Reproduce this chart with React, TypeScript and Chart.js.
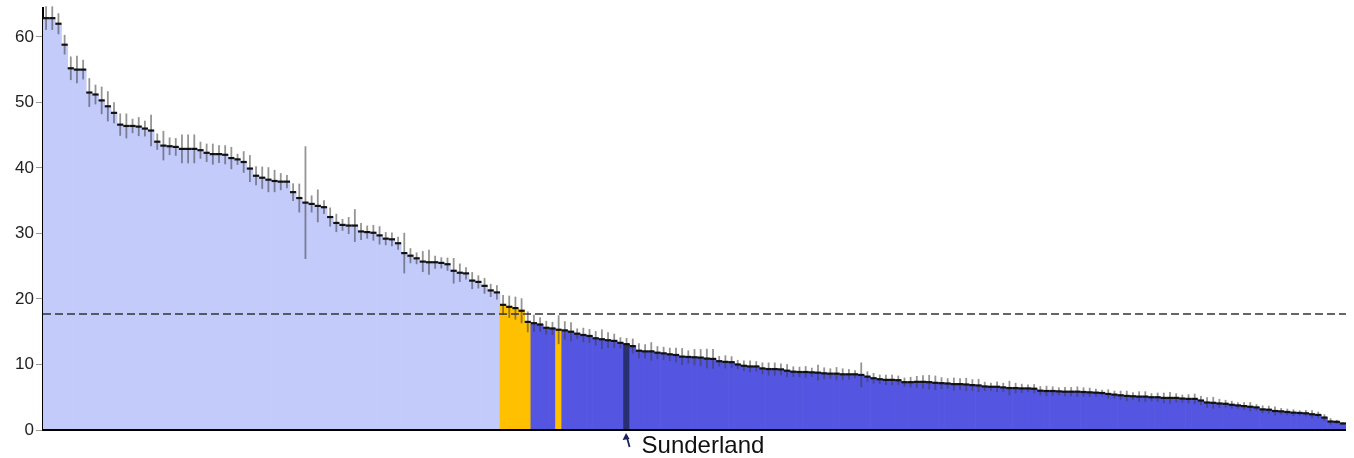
import React, { useEffect, useRef } from "react";
import { Chart, registerables } from "chart.js";

Chart.register(...registerables);

// Bar values (sorted, highest first)
const values: number[] = [
  62.85, 62.85, 62.0, 58.8, 55.2, 55.0, 55.0, 51.5, 51.2, 50.3,
  49.4, 48.4, 46.6, 46.4, 46.4, 46.3, 46.0, 45.7, 44.0, 43.4,
  43.3, 43.2, 42.9, 42.9, 42.9, 42.7, 42.3, 42.1, 42.1, 42.0,
  41.5, 41.3, 40.9, 39.9, 38.8, 38.5, 38.2, 38.0, 37.9, 37.9,
  36.3, 35.4, 34.7, 34.5, 34.2, 34.0, 32.5, 31.6, 31.3, 31.2,
  31.2, 30.3, 30.2, 30.1, 29.7, 29.2, 29.1, 28.5, 27.0, 26.6,
  26.2, 25.7, 25.6, 25.6, 25.5, 25.3, 24.3, 24.0, 23.9, 22.8,
  22.6, 22.0, 21.3, 21.0,
  19.1, 18.8, 18.6, 18.2, 16.5, 16.3, 16.1, 15.6, 15.5, 15.3,
  15.2, 15.0, 14.7, 14.5, 14.35, 14.0, 13.85, 13.7, 13.6, 13.3,
  13.1, 12.8, 12.1, 12.0, 12.0, 11.8, 11.7, 11.55, 11.45, 11.2,
  11.15,
  11.1, 11.05, 10.9, 10.85, 10.5, 10.4, 10.35, 10.0, 9.8, 9.7,
  9.7, 9.4, 9.3, 9.3, 9.25, 9.05, 8.9, 8.85, 8.85, 8.8,
  8.75, 8.65, 8.6, 8.6, 8.5, 8.5, 8.5, 8.4, 8.15, 7.9,
  7.75, 7.65, 7.65, 7.6, 7.3, 7.3, 7.35,
  7.35, 7.3, 7.2, 7.15, 7.1, 7.0, 7.0, 6.95, 6.85, 6.8,
  6.65, 6.6, 6.6, 6.5, 6.4, 6.4, 6.35, 6.35, 6.3, 6.0,
  5.95, 5.95, 5.9, 5.85, 5.85, 5.85, 5.8, 5.75, 5.7, 5.65,
  5.5, 5.4, 5.3, 5.2, 5.15, 5.1,
  5.1, 5.0, 5.0, 4.9, 4.9, 4.9, 4.8, 4.75, 4.75, 4.5,
  4.2, 4.15, 4.05, 4.0, 3.85, 3.75, 3.65, 3.55, 3.45, 3.15,
  3.1, 2.9, 2.85, 2.75, 2.65, 2.6, 2.55, 2.4, 2.3, 1.9,
  1.3, 1.25, 1.0,
];

// Half-width of each confidence interval
const errors: number[] = [
  1.8, 1.8, 1.6, 1.5, 1.8, 2.1, 1.5, 2.2, 1.5, 2.1,
  2.3, 1.6, 1.7, 1.9, 1.1, 1.45, 1.2, 2.4, 1.25, 2.25,
  1.35, 1.35, 2.2, 2.2, 2.2, 1.3, 1.4, 1.6, 1.35, 1.45,
  1.7, 0.85, 1.65, 2.05, 1.45, 1.7, 1.9, 1.7, 1.3, 1.0,
  1.35, 2.2, 8.6, 1.3, 2.5, 1.05, 1.45, 1.4, 0.9, 1.3,
  2.5, 1.3, 1.0, 1.2, 1.4, 1.0, 1.05, 1.0, 3.1, 1.15,
  0.9, 1.6, 1.9, 1.0, 0.85, 1.0, 1.95, 1.4, 0.95, 1.3,
  1.0, 1.2, 1.0, 1.1,
  1.5, 1.7, 1.75, 1.9, 1.6, 1.3, 1.1, 1.05, 1.0, 2.2,
  1.4, 1.45, 0.8, 1.1, 1.05, 1.1, 1.5, 1.2, 1.1, 0.85,
  0.95, 1.15, 1.15, 1.1, 1.4, 1.0, 1.0, 1.0, 1.1, 1.3,
  1.0,
  1.25, 1.3, 1.5, 1.5, 0.8, 1.0, 0.9, 0.7, 0.8, 0.9,
  0.8, 0.9, 1.0, 1.0, 0.9, 1.0, 0.8, 0.8, 0.9, 0.7,
  1.2, 0.9, 0.8, 1.0, 0.9, 0.8, 0.6, 1.9, 0.8, 0.8,
  0.7, 0.8, 0.8, 0.7, 0.7, 0.8, 0.9,
  1.0, 1.1, 1.1, 0.9, 0.8, 1.0, 0.9, 1.0, 0.9, 1.0,
  0.7, 0.6, 0.8, 0.7, 1.1, 0.8, 0.7, 0.6, 0.7, 0.7,
  0.8, 0.7, 0.6, 0.7, 0.7, 0.8, 0.7, 0.7, 0.6, 0.5,
  0.7, 0.6, 0.7, 0.8, 0.6, 0.8,
  0.8, 0.6, 0.7, 0.8, 0.9, 0.7, 0.6, 0.7, 0.8, 0.7,
  0.8, 0.9, 0.7, 0.6, 0.6, 0.5, 0.6, 0.7, 0.5, 0.6,
  0.6, 0.7, 0.5, 0.5, 0.5, 0.4, 0.5, 0.6, 0.5, 0.5,
  0.5, 0.3, 0.2,
];

const lightGroupCount = 74; // first group (above the average band)
const orangeIndices = [74, 75, 76, 77, 78, 83];
const highlightIndex = 94;
const highlightName = "Sunderland";
const averageValue = 17.7;
const yTickValues = [0, 10, 20, 30, 40, 50, 60];
const yMax = 64.4;

const categories: string[] = values.map((_, i) =>
  i === highlightIndex ? highlightName : `Area ${i + 1}`
);

const COLORS = {
  light: "#c3cbfb",
  blue: "#5456e2",
  orange: "#ffc000",
  highlight: "#283072",
};

const barColors = values.map((_, i) => {
  if (i === highlightIndex) return COLORS.highlight;
  if (orangeIndices.includes(i)) return COLORS.orange;
  if (i < lightGroupCount) return COLORS.light;
  return COLORS.blue;
});

const FONT = '"Liberation Sans", Arial, Helvetica, sans-serif';

const overlayPlugin = {
  id: "overlay",
  afterDatasetsDraw(chart: any) {
    const ctx: CanvasRenderingContext2D = chart.ctx;
    const meta = chart.getDatasetMeta(0);
    const ys = chart.scales.y;
    const area = chart.chartArea;
    ctx.save();

    // error bars
    ctx.strokeStyle = "rgba(60,60,60,0.55)";
    ctx.lineWidth = 1.8;
    meta.data.forEach((bar: any, i: number) => {
      const e = errors[i];
      if (!e) return;
      ctx.beginPath();
      ctx.moveTo(bar.x, ys.getPixelForValue(values[i] + e));
      ctx.lineTo(bar.x, ys.getPixelForValue(values[i] - e));
      ctx.stroke();
    });

    // black value marks on bar tops
    ctx.strokeStyle = "#111";
    ctx.lineWidth = 2.2;
    meta.data.forEach((bar: any, i: number) => {
      const w = bar.width;
      const yy = ys.getPixelForValue(values[i]);
      ctx.beginPath();
      ctx.moveTo(bar.x - w / 2, yy);
      ctx.lineTo(bar.x + w / 2, yy);
      ctx.stroke();
    });

    // average dashed line
    const ay = ys.getPixelForValue(averageValue);
    ctx.strokeStyle = "#333";
    ctx.lineWidth = 1.4;
    ctx.setLineDash([8, 4]);
    ctx.beginPath();
    ctx.moveTo(area.left, ay);
    ctx.lineTo(area.right, ay);
    ctx.stroke();
    ctx.setLineDash([]);

    // x axis line
    ctx.strokeStyle = "#000";
    ctx.lineWidth = 2;
    ctx.beginPath();
    ctx.moveTo(area.left - 1, area.bottom);
    ctx.lineTo(area.right, area.bottom);
    ctx.stroke();

    // highlight arrow + label
    const hb = meta.data[highlightIndex];
    const hx = hb.x;
    const tipY = area.bottom + 3;
    ctx.strokeStyle = "#1c2460";
    ctx.fillStyle = "#1c2460";
    ctx.lineWidth = 1.8;
    ctx.beginPath();
    ctx.moveTo(hx + 3, area.bottom + 17);
    ctx.lineTo(hx, tipY + 3);
    ctx.stroke();
    ctx.beginPath();
    ctx.moveTo(hx - 0.5, tipY);
    ctx.lineTo(hx - 4, tipY + 7);
    ctx.lineTo(hx + 3, tipY + 6);
    ctx.closePath();
    ctx.fill();

    ctx.fillStyle = "#111";
    ctx.font = `24px ${FONT}`;
    ctx.textAlign = "left";
    ctx.textBaseline = "alphabetic";
    ctx.fillText(highlightName, hx + 15, area.bottom + 23);

    ctx.restore();
  },
};

export default function App() {
  const canvasRef = useRef<HTMLCanvasElement | null>(null);

  useEffect(() => {
    document.body.style.margin = "0";
    const canvas = canvasRef.current;
    if (!canvas) return;
    const chart = new Chart(canvas, {
      type: "bar",
      data: {
        labels: categories,
        datasets: [
          {
            data: values,
            backgroundColor: barColors,
            borderWidth: 0,
            barPercentage: 1,
            categoryPercentage: 1,
          },
        ],
      },
      options: {
        responsive: false,
        animation: false,
        devicePixelRatio: 1,
        layout: { padding: { top: 8, right: 8, bottom: 28, left: 0 } },
        plugins: {
          legend: { display: false },
          tooltip: { enabled: false },
        },
        scales: {
          x: {
            display: false,
            grid: { display: false },
          },
          y: {
            min: 0,
            max: yMax,
            afterFit: (axis: any) => {
              axis.width = 43;
              axis.paddingTop = 0;
              axis.paddingBottom = 0;
            },
            afterBuildTicks: (axis: any) => {
              axis.ticks = yTickValues.map((v) => ({ value: v }));
            },
            ticks: {
              includeBounds: false,
              color: "#222",
              padding: 2,
              font: { family: FONT, size: 17 },
            },
            grid: {
              drawOnChartArea: false,
              drawTicks: true,
              tickLength: 7,
              color: "#999",
            },
            border: { display: true, color: "#000", width: 2 },
          },
        },
      },
      plugins: [overlayPlugin],
    } as any);
    return () => chart.destroy();
  }, []);

  return (
    <div style={{ width: 1354, height: 458, position: "relative" }}>
      <canvas ref={canvasRef} width={1354} height={458} />
    </div>
  );
}
